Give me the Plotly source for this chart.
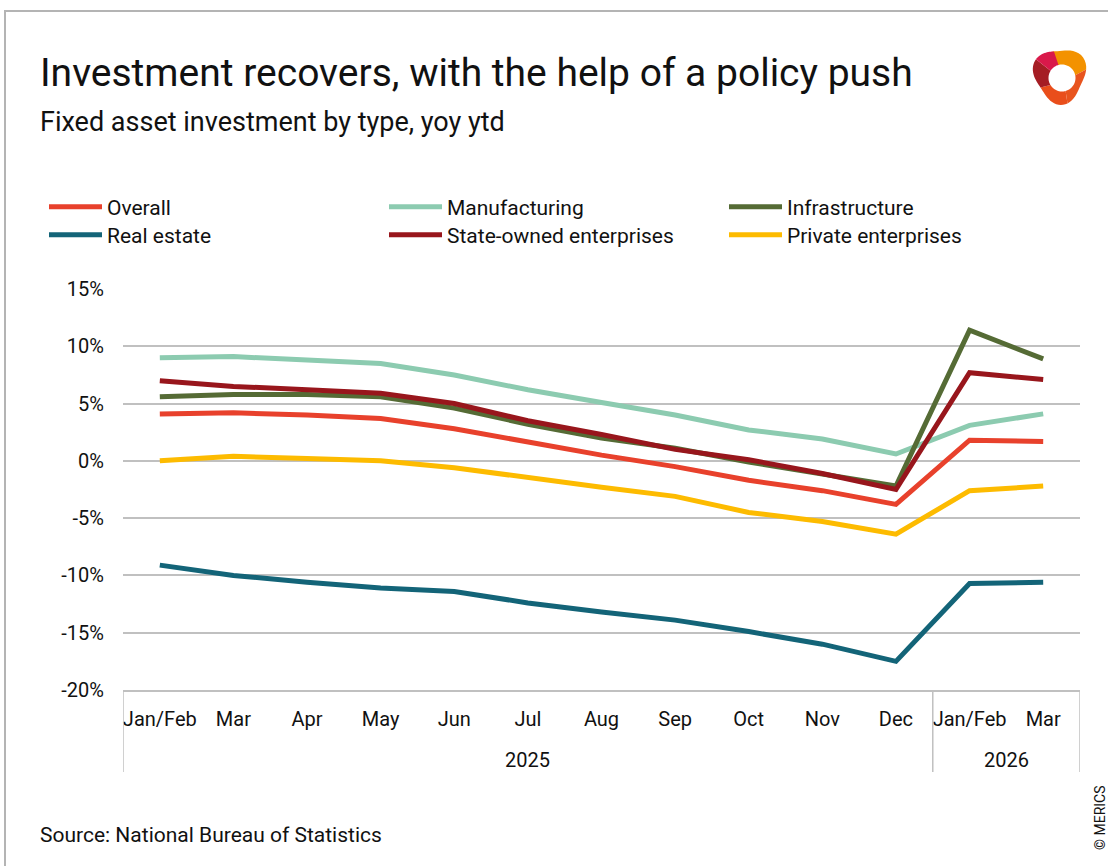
import math
import plotly.graph_objects as go

# Periods (year, month label)
years = ["2025"] * 11 + ["2026"] * 2
months = ["Jan/Feb", "Mar", "Apr", "May", "Jun", "Jul", "Aug", "Sep", "Oct", "Nov", "Dec",
          "Jan/Feb", "Mar"]
periods = [f"{m} {y}" for m, y in zip(months, years)]

# Fixed asset investment, yoy ytd (%)
overall = [4.1, 4.2, 4.0, 3.7, 2.8, 1.6, 0.5, -0.5, -1.7, -2.6, -3.8, 1.8, 1.7]
manufacturing = [9.0, 9.1, 8.8, 8.5, 7.5, 6.2, 5.1, 4.0, 2.7, 1.9, 0.6, 3.1, 4.1]
infrastructure = [5.6, 5.8, 5.8, 5.6, 4.6, 3.2, 2.0, 1.1, -0.1, -1.1, -2.2, 11.4, 8.9]
real_estate = [-9.1, -10.0, -10.6, -11.1, -11.4, -12.4, -13.2, -13.9, -14.9, -16.0, -17.5, -10.7, -10.6]
soe = [7.0, 6.5, 6.2, 5.9, 5.0, 3.5, 2.3, 1.0, 0.1, -1.1, -2.5, 7.7, 7.1]
private = [0.0, 0.4, 0.2, 0.0, -0.6, -1.5, -2.3, -3.1, -4.5, -5.3, -6.4, -2.6, -2.2]

y_ticks = [-20, -15, -10, -5, 0, 5, 10, 15]
y_tick_text = ["-20%", "-15%", "-10%", "-5%", "0%", "5%", "10%", "15%"]

series = [
    ("Overall", overall, "#e8412c"),
    ("Manufacturing", manufacturing, "#8ccbb0"),
    ("Infrastructure", infrastructure, "#556b35"),
    ("Real estate", real_estate, "#136478"),
    ("State-owned enterprises", soe, "#98161c"),
    ("Private enterprises", private, "#fdbb00"),
]

FONT = "Roboto, sans-serif"
TXT = "#111111"
GRID = "#c0c0c0"
W, H = 1108, 866
L, R, T, B = 123, 28, 289, 176
PW, PH = W - L - R, H - T - B

# legend grid: three columns, two rows (pixel anchors)
LEG_COLS = [44, 384, 724]
LEG_ROWS = [207, 235]


def px(x):
    return (x - L) / PW


def py(y):
    return (H - B - y) / PH


fig = go.Figure()
legends = {}
for i, (name, vals, color) in enumerate(series):
    key = "legend" if i == 0 else f"legend{i + 1}"
    fig.add_trace(go.Scatter(
        x=periods, y=vals, name=name, mode="lines",
        line=dict(color=color, width=5), legend=key,
    ))
    legends[key] = dict(
        orientation="v", xref="container", yref="container",
        x=LEG_COLS[i % 3] / W, y=1 - LEG_ROWS[i // 3] / H,
        xanchor="left", yanchor="middle", itemwidth=53,
        font=dict(family=FONT, size=21, color=TXT),
        bgcolor="rgba(0,0,0,0)",
    )

shapes = []
# frame around the graphic (top and left edges)
shapes.append(dict(type="path", xref="paper", yref="paper",
                   path=f"M{px(5)},{py(870)} L{px(5)},{py(11)} L{px(1112)},{py(11)}",
                   line=dict(color="#b4b4b4", width=2)))

# year group dividers below the category axis
for xpos in (-0.5, 10.5, 12.5):
    shapes.append(dict(type="line", xref="x", yref="paper", x0=xpos, x1=xpos,
                       y0=0, y1=py(772), line=dict(color=GRID, width=1.5)))

# logo: twisted ring built from coloured sectors
cx, cy = 1060, 75
icx, icy, ir = 1062, 78, 13.5


def outer_r(a):
    return 27 + 3.0 * math.cos(3 * (a + 0.6))


def sector(a0, a1, color):
    n = 16
    pts = []
    for i in range(n + 1):
        a = a0 + (a1 - a0) * i / n
        r = outer_r(a)
        pts.append((cx + 0.95 * r * math.cos(a), cy + r * math.sin(a)))
    for i in range(n, -1, -1):
        a = a0 + (a1 - a0) * i / n
        pts.append((icx + ir * math.cos(a), icy + ir * math.sin(a)))
    d = "M" + " L".join(f"{px(x):.5f},{py(y):.5f}" for x, y in pts) + " Z"
    return dict(type="path", xref="paper", yref="paper", path=d,
                fillcolor=color, line=dict(width=0))


shapes.append(sector(-1.9, -0.2, "#f39200"))
shapes.append(sector(-0.2, 1.3, "#e8541e"))
shapes.append(sector(1.3, 2.6, "#e94e1b"))
shapes.append(sector(2.6, 3.7, "#a51d24"))
shapes.append(sector(3.7, 4.45, "#d9194a"))

annotations = [
    dict(text="Investment recovers, with the help of a policy push", x=px(38), y=py(73),
         xref="paper", yref="paper", xanchor="left", yanchor="middle", showarrow=False,
         font=dict(family=FONT, size=39, color=TXT)),
    dict(text="Fixed asset investment by type, yoy ytd", x=px(38), y=py(122),
         xref="paper", yref="paper", xanchor="left", yanchor="middle", showarrow=False,
         font=dict(family=FONT, size=27, color=TXT)),
    dict(text="Source: National Bureau of Statistics", x=px(38), y=py(835),
         xref="paper", yref="paper", xanchor="left", yanchor="middle", showarrow=False,
         font=dict(family=FONT, size=21, color=TXT)),
    dict(text="© MERICS", x=px(1100), y=py(818), textangle=-90,
         xref="paper", yref="paper", xanchor="center", yanchor="middle", showarrow=False,
         font=dict(family=FONT, size=14, color=TXT)),
    # year labels under the month ticks
    dict(text="2025", x=5, y=py(760), xref="x", yref="paper", xanchor="center",
         yanchor="middle", showarrow=False, font=dict(family=FONT, size=20, color=TXT)),
    dict(text="2026", x=11.5, y=py(760), xref="x", yref="paper", xanchor="center",
         yanchor="middle", showarrow=False, font=dict(family=FONT, size=20, color=TXT)),
]

fig.update_layout(
    width=W, height=H,
    margin=dict(l=L, r=R, t=T, b=B, autoexpand=False),
    paper_bgcolor="white", plot_bgcolor="white",
    font=dict(family=FONT, size=20, color=TXT),
    showlegend=True,
    xaxis=dict(type="category", showgrid=False, showline=True, linecolor=GRID,
               linewidth=1.5, ticks="", tickvals=periods, ticktext=months,
               range=[-0.5, 12.5], ticklabelstandoff=10,
               tickfont=dict(family=FONT, size=20, color=TXT)),
    yaxis=dict(range=[-20, 15], tickvals=y_ticks, ticktext=y_tick_text,
               showgrid=True, gridcolor=GRID, gridwidth=1.5,
               zeroline=False, showline=False, ticks="", ticklabelstandoff=18,
               tickfont=dict(family=FONT, size=20, color=TXT)),
    shapes=shapes,
    annotations=annotations,
)
fig.update_layout(**legends)

fig.write_html("out.html")
